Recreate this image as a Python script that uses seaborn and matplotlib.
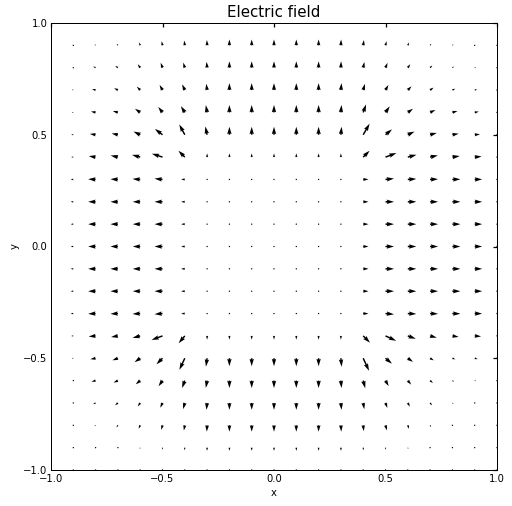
import numpy as np
import matplotlib
matplotlib.use("Agg")
import matplotlib.pyplot as plt
import seaborn as sns

# grid positions of the arrows (columns left->right, rows top->bottom)
xs = [-0.9, -0.8, -0.7, -0.6, -0.5, -0.4, -0.3, -0.2, -0.1, 0.0,
      0.1, 0.2, 0.3, 0.4, 0.5, 0.6, 0.7, 0.8, 0.9, 1.0]
ys = [0.9, 0.8, 0.7, 0.6, 0.5, 0.4, 0.3, 0.2, 0.1, 0.0,
      -0.1, -0.2, -0.3, -0.4, -0.5, -0.6, -0.7, -0.8, -0.9, -1.0]

# field components (one row per y value)
U = [
    [-0.7, -1.0, -1.1, -1.0, -0.8, -0.6, -0.2, 0, 0, 0, 0, 0, 0.2, 0.7, 1.0, 1.3, 1.1, 1.1, 0.8, 0],
    [-1.0, -2.3, -2.5, -2.3, -1.7, -1.5, -0.5, 0, 0, 0, 0, 0, 0.2, 1.1, 1.9, 2.3, 2.1, 1.6, 1.3, 0],
    [-1.4, -3.4, -3.6, -3.2, -2.75, -2.5, -0.8, 0, 0, 0, 0, 0, 0.6, 1.6, 2.75, 3.5, 3.3, 2.7, 2.4, 0],
    [-1.5, -4.4, -4.8, -4.9, -4.0, -3.7, -1.2, 0, 0, 0, 0, 0, 0.6, 2.7, 4.0, 4.9, 5.0, 4.8, 3.9, 0],
    [-2.0, -5.4, -5.9, -6.3, -7.1, -5.2, -1.7, 0, 0, 0, 0, 0, 0.65, 6.0, 6.1, 6.3, 6.3, 5.9, 5.0, 0],
    [-2.0, -6.4, -6.8, -7.7, -10.0, -6.0, 0, 0, 0, 0, 0, 0, 0, 6.0, 10.3, 8.2, 7.3, 6.9, 6.5, 0],
    [-2.5, -7.0, -7.0, -7.2, -7.5, -3.5, 0, 0, 0, 0, 0, 0, 0, 5.0, 8.0, 8.0, 7.5, 7.5, 7.0, 0],
    [-2.5, -7.0, -7.0, -7.0, -7.5, -3.5, 0, 0, 0, 0, 0, 0, 0, 5.0, 8.0, 8.0, 7.5, 7.5, 7.0, 0],
    [-2.5, -7.0, -7.0, -7.0, -7.5, -3.5, 0, 0, 0, 0, 0, 0, 0, 5.0, 8.0, 8.0, 7.5, 7.5, 7.0, 0],
    [-2.5, -7.0, -7.0, -7.0, -7.5, -3.5, 0, 0, 0, 0, 0, 0, 0, 5.0, 8.0, 8.0, 7.5, 7.5, 7.0, 0],
    [-2.5, -7.0, -7.0, -7.0, -7.5, -3.5, 0, 0, 0, 0, 0, 0, 0, 5.0, 8.0, 8.0, 7.5, 7.5, 7.0, 0],
    [-2.5, -7.0, -7.0, -7.0, -7.5, -3.5, 0, 0, 0, 0, 0, 0, 0, 5.0, 8.0, 8.0, 7.5, 7.5, 7.0, 0],
    [-2.5, -7.0, -7.0, -7.2, -7.5, -3.5, 0, 0, 0, 0, 0, 0, 0, 5.0, 8.0, 8.0, 7.5, 7.5, 7.0, 0],
    [-2.0, -6.5, -6.4, -7.2, -10.3, -5.8, 0, 0, 0, 0, 0, 0, 0, 6.4, 10.0, 7.5, 6.3, 5.9, 6.0, 0],
    [-1.5, -4.9, -5.2, -5.3, -5.7, -5.1, -1.1, 0, 0, 0, 0, 0, 0.7, 5.5, 6.1, 4.9, 3.5, 2.8, 2.9, 0],
    [-1.2, -3.9, -4.1, -4.2, -3.7, -2.6, -1.2, 0, 0, 0, 0, 0, 0.6, 1.9, 3.0, 3.2, 2.7, 1.7, 1.4, 0],
    [-0.9, -2.3, -2.7, -2.3, -2.1, -1.6, -0.6, 0, 0, 0, 0, 0, 0.6, 1.0, 1.7, 2.0, 1.9, 1.1, 0.9, 0],
    [-0.7, -1.2, -1.4, -1.5, -1.2, -0.9, -0.3, 0, 0, 0, 0, 0, 0.3, 0.5, 1.3, 1.2, 1.0, 0.6, 0.5, 0],
    [-0.3, -0.4, -0.4, -0.4, -0.35, -0.2, -0.1, 0, 0, 0, 0, 0, 0.1, 0.2, 0.35, 0.4, 0.4, 0.4, 0.3, 0],
    [0, 0, 0, 0, 0, 0, 0, 0, 0, 0, 0, 0, 0, 0, 0, 0, 0, 0, 0, 0],
]
V = [
    [0.7, 1.1, 1.6, 2.8, 3.9, 4.5, 5.0, 5.5, 5.5, 5.5, 5.5, 5.5, 5.5, 5.0, 3.9, 2.7, 1.6, 1.1, 0.6, 0],
    [0.6, 1.1, 1.7, 3.3, 4.7, 4.8, 5.5, 6, 6, 6, 6, 6, 6, 5.4, 4.6, 3.3, 2.1, 1.1, 0.75, 0],
    [0.4, 0.9, 1.7, 3.2, 4.8, 5.4, 5.9, 6.5, 6.5, 6.5, 6.5, 6.5, 6.5, 5.8, 4.8, 3.5, 2.3, 1.3, 0.6, 0],
    [0.3, 0.8, 1.3, 3.4, 5.1, 5.9, 6.9, 7, 7, 7, 7, 7, 7, 7.5, 5.7, 3.4, 2.3, 1.3, 0.7, 0],
    [0.2, 0.8, 1.2, 3.0, 5.5, 9.7, 7.8, 7.5, 7.5, 7.5, 7.5, 7.5, 7.5, 10.4, 5.1, 3.0, 1.7, 1.0, 0.4, 0],
    [0.1, 0.9, 1.5, 2.1, 3.2, 6.0, 3.5, 3.5, 3.5, 3.5, 3.5, 3.5, 3.5, 6.0, 3.8, 2.2, 1.6, 1.0, 0.6, 0],
    [0.1, 0.3, 0.3, 0.5, 0.8, 0.1, 0, 0, 0, 0, 0, 0, 0, 0.1, 0.8, 0.5, 0.3, 0.2, 0.1, 0],
    [0, 0, 0, 0, 0, 0, 0, 0, 0, 0, 0, 0, 0, 0, 0, 0, 0, 0, 0, 0],
    [0, 0, 0, 0, 0, 0, 0, 0, 0, 0, 0, 0, 0, 0, 0, 0, 0, 0, 0, 0],
    [0, 0, 0, 0, 0, 0, 0, 0, 0, 0, 0, 0, 0, 0, 0, 0, 0, 0, 0, 0],
    [0, 0, 0, 0, 0, 0, 0, 0, 0, 0, 0, 0, 0, 0, 0, 0, 0, 0, 0, 0],
    [0, 0, 0, 0, 0, 0, 0, 0, 0, 0, 0, 0, 0, 0, 0, 0, 0, 0, 0, 0],
    [-0.1, -0.3, -0.3, -0.4, -0.6, -0.1, 0, 0, 0, 0, 0, 0, 0, -0.1, -0.7, -0.4, -0.3, -0.2, -0.1, 0],
    [-0.1, -0.6, -1.1, -1.9, -3.8, -6.9, -3.5, -3.5, -3.5, -3.5, -3.5, -3.5, -3.5, -6.4, -4.6, -2.7, -1.7, -1.0, -0.5, 0],
    [-0.1, -0.9, -1.9, -3.7, -5.7, -10.9, -7.9, -7.5, -7.5, -7.5, -7.5, -7.5, -8.0, -11.8, -5.1, -3.4, -2.0, -1.0, -0.8, 0],
    [-0.2, -1.0, -1.9, -3.5, -5.3, -7.0, -6.9, -7, -7, -7, -7, -7, -7.0, -7.2, -5.2, -3.8, -2.2, -1.0, -0.5, 0],
    [-0.3, -1.1, -2.2, -3.3, -4.5, -5.8, -6.5, -6.5, -6.5, -6.5, -6.5, -6.5, -6.5, -5.9, -4.7, -3.5, -2.3, -1.0, -0.5, 0],
    [-0.4, -0.9, -2.0, -3.2, -4.3, -4.9, -6.0, -6, -6, -6, -6, -6, -6, -5.5, -4.8, -3.3, -1.7, -0.8, -0.45, 0],
    [-0.4, -0.7, -0.9, -1.4, -2.0, -2.5, -3.0, -3, -3, -3, -3, -3, -3, -2.5, -2.0, -1.4, -0.9, -0.6, -0.4, 0],
    [0, 0, 0, 0, 0, 0, 0, 0, 0, 0, 0, 0, 0, 0, 0, 0, 0, 0, 0, 0],
]

sns.set_theme(style="white")
plt.rcParams.update({
    "font.family": ["DejaVu Sans"],
    "xtick.direction": "in",
    "ytick.direction": "in",
    "xtick.top": True,
    "ytick.right": True,
    "xtick.major.size": 4,
    "ytick.major.size": 4,
    "xtick.labelsize": 10,
    "ytick.labelsize": 10,
    "axes.labelsize": 10,
    "axes.edgecolor": "black",
    "axes.linewidth": 1.0,
    "xtick.color": "black",
    "ytick.color": "black",
    "text.color": "black",
    "axes.labelcolor": "black",
})

DPI = 72
fig = plt.figure(figsize=(512 / DPI, 506 / DPI), dpi=DPI)
ax = fig.add_axes([51 / 512, 36 / 506, 446 / 512, 447 / 506])

X, Y = np.meshgrid(xs, ys)
ax.quiver(X, Y, np.array(U), np.array(V), color="black",
          scale=420, scale_units="width", width=0.0033)

ax.set_xlim(-1, 1)
ax.set_ylim(-1, 1)
ax.set_xticks([-1.0, -0.5, 0.0, 0.5, 1.0])
ax.set_yticks([-1.0, -0.5, 0.0, 0.5, 1.0])
ax.set_xlabel("x")
ax.set_ylabel("y")
ax.set_title("Electric field", fontsize=15)

fig.savefig("out.png", dpi=DPI, facecolor="white")
